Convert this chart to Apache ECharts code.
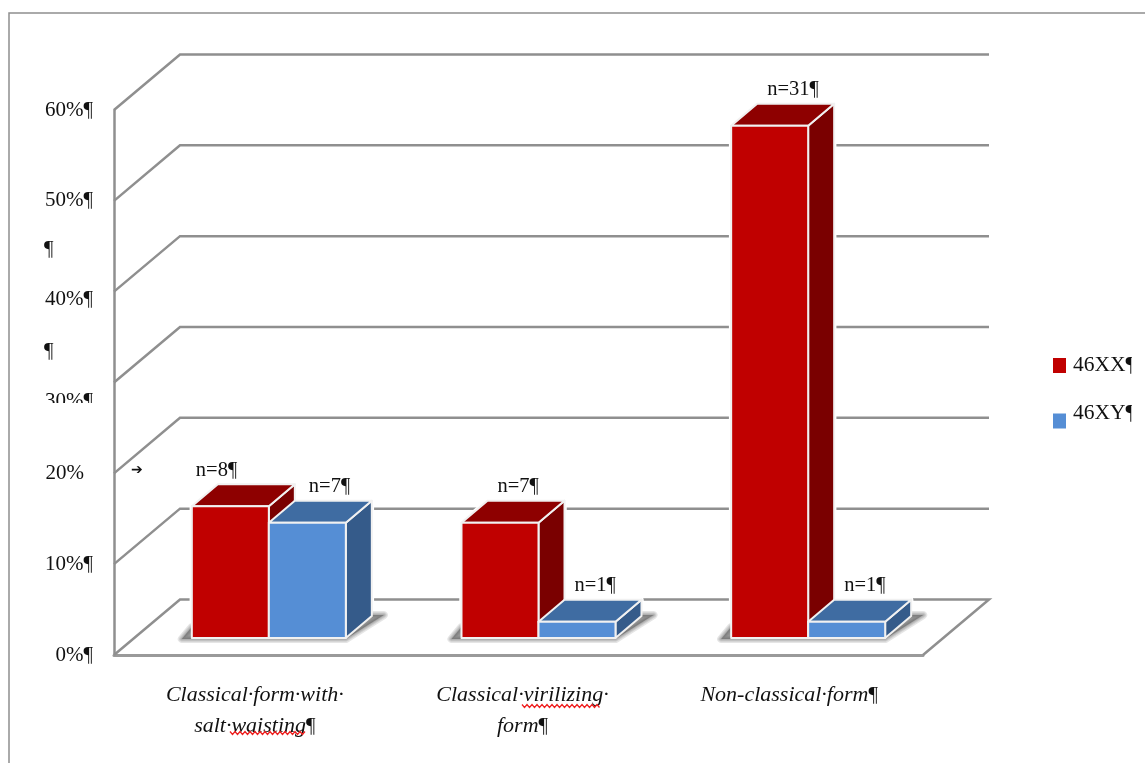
<!DOCTYPE html>
<html><head><meta charset="utf-8">
<style>html,body{margin:0;padding:0;background:#fff}#c{width:1145px;height:763px}</style>
<script src="https://cdn.jsdelivr.net/npm/echarts@6/dist/echarts.min.js"></script>
</head><body><div id="c"></div>
<script>
const categories = ['Classical·form·with·\nsalt·waisting', 'Classical·virilizing·\nform', 'Non-classical·form'];
const values46XX = [14.5, 12.7, 56.4];
const values46XY = [12.7, 1.8, 1.8];
const counts46XX = [8, 7, 31];
const counts46XY = [7, 1, 1];
const yTicks = [0, 10, 20, 30, 40, 50, 60];
const yTickLabels = ['0%¶', '10%¶', '20%', '30%¶', '40%¶', '50%¶', '60%¶'];

const SERIF = '"Liberation Serif", serif';
const GRID = {left: 114, top: 110, width: 809, height: 545};
const WALL = {dx: 66, dy: -55.5};
const INSET = {dx: 20, dy: -17};
const DEPTH = {dx: 26, dy: -22};
const BAR_SHARE = 77 / 269.67;

function barBox(api, slot) {
  const cat = api.value(0);
  const top = api.coord([cat, api.value(1)]);
  const base = api.coord([cat, 0]);
  const w = api.size([1, 0])[0] * BAR_SHARE;
  const x0 = top[0] + INSET.dx + (slot - 1) * w;
  return {cat, x0, x1: x0 + w, yT: top[1] + INSET.dy, yB: base[1] + INSET.dy};
}

function haloSeries(values, slot) {
  return {
    type: 'custom', coordinateSystem: 'cartesian2d', z: 2, silent: true,
    encode: {x: 0, y: 1},
    data: values.map((v, i) => [i, v]),
    renderItem(params, api) {
      const b = barBox(api, slot), d = DEPTH;
      return {type: 'polygon', shape: {points: [[b.x0, b.yB], [b.x0, b.yT], [b.x0 + d.dx, b.yT + d.dy],
        [b.x1 + d.dx, b.yT + d.dy], [b.x1 + d.dx, b.yB + d.dy], [b.x1, b.yB]]},
        style: {fill: '#fff', stroke: '#fff', lineWidth: 4.5, lineJoin: 'round'}};
    }
  };
}

function barSeries(name, values, counts, slot, pal) {
  return {
    name, type: 'custom', coordinateSystem: 'cartesian2d', z: 4,
    itemStyle: {color: pal.front},
    encode: {x: 0, y: 1},
    data: values.map((v, i) => [i, v, counts[i]]),
    renderItem(params, api) {
      const {cat, x0, x1, yT, yB} = barBox(api, slot);
      const d = DEPTH;
      const edge = {stroke: '#f1f1f1', lineWidth: 2, lineJoin: 'round'};
      const poly = (pts, fill) => ({type: 'polygon', shape: {points: pts}, style: Object.assign({fill}, edge)});
      const nudge = cat === 0 ? (slot === 0 ? -32 : 4) : 0;
      return {type: 'group', children: [
        poly([[x1, yT], [x1 + d.dx, yT + d.dy], [x1 + d.dx, yB + d.dy], [x1, yB]], pal.side),
        poly([[x0, yT], [x0 + d.dx, yT + d.dy], [x1 + d.dx, yT + d.dy], [x1, yT]], pal.top),
        poly([[x0, yT], [x1, yT], [x1, yB], [x0, yB]], pal.front),
        {type: 'text', z2: 5, style: {
          text: 'n=' + api.value(2) + '¶', x: x0 + 36 + nudge, y: yT - 36,
          fill: '#111', font: '20.5px ' + SERIF, textAlign: 'left', textVerticalAlign: 'middle'
        }}
      ]};
    }
  };
}

const wallSeries = {
  type: 'custom', coordinateSystem: 'cartesian2d', z: 1, silent: true,
  encode: {x: 0, y: 1},
  data: yTicks.map(t => [0, t]),
  renderItem(params, api) {
    const y = api.coord([0, api.value(1)])[1];
    const cs = params.coordSys;
    const L = cs.x, R = cs.x + cs.width;
    const pts = [[L, y], [L + WALL.dx, y + WALL.dy], [R + WALL.dx, y + WALL.dy]];
    if (api.value(1) === 0) pts.push([R, y]);
    return {type: 'polyline', shape: {points: pts}, style: {fill: null, stroke: '#8f8f8f', lineWidth: 2.5}};
  }
};

const shadowSeries = {
  type: 'custom', coordinateSystem: 'cartesian2d', z: 3, silent: true,
  encode: {x: 0, y: 1},
  data: categories.map((c, i) => [i, 0]),
  renderItem(params, api) {
    const p = api.coord([api.value(0), 0]);
    const w = api.size([1, 0])[0] * BAR_SHARE;
    const left = p[0] + INSET.dx - w, right = p[0] + INSET.dx + w;
    const y = p[1] + INSET.dy + 1;
    const pts = [[left - 10, y], [right, y], [right + 38, y - 24], [right, y - 24], [left, y - 12]];
    const layers = [];
    [8, 5.5, 3.5, 1.5].forEach(wd => layers.push({type: 'polygon', shape: {points: pts},
      style: {fill: 'rgba(95,95,95,0.2)', stroke: 'rgba(95,95,95,0.16)', lineWidth: wd, lineJoin: 'round'}}));
    return {type: 'group', children: layers};
  }
};

function squiggle(x0, x1, y) {
  const pts = [];
  for (let x = x0, i = 0; x <= x1; x += 2.5, i++) pts.push([x, y + (i % 2 ? 1.5 : -1.5)]);
  return {type: 'polyline', shape: {points: pts}, style: {fill: null, stroke: '#ee2020', lineWidth: 1.3}, z: 20};
}
const looseText = (text, x, y, size) => ({type: 'text', x, y, z: 20,
  style: {text, fill: '#111', font: size + 'px ' + SERIF, textVerticalAlign: 'middle'}});

const yStyle = {0: 'plain', 10: 'plain', 20: 'short', 30: 'low2', 40: 'low1', 50: 'plain', 60: 'plain'};
const catNudge = ['n12', 'n8', 'n2'];

const chart = echarts.init(document.getElementById('c'));
chart.setOption({
  animation: false,
  backgroundColor: '#fff',
  grid: GRID,
  legend: {
    left: 1048, top: 349, orient: 'vertical', itemWidth: 13, itemHeight: 15, itemGap: 26,
    icon: 'rect', selectedMode: false,
    data: ['46XX', '46XY'],
    formatter: n => n === '46XY' ? '{up|' + n + '¶}' : '{t|' + n + '¶}',
    textStyle: {color: '#111', fontFamily: SERIF, fontSize: 21.5,
      rich: {t: {fontFamily: SERIF, fontSize: 21.5, color: '#111', padding: [0, 0, 1, 2]},
             up: {fontFamily: SERIF, fontSize: 21.5, color: '#111', padding: [0, 0, 16, 2]}}}
  },
  xAxis: {
    type: 'category', data: categories,
    axisTick: {show: false},
    axisLine: {lineStyle: {color: '#9a9a9a', width: 3}},
    axisLabel: {
      interval: 0, margin: 25,
      formatter: (v, i) => {
        const lines = v.split('\n');
        return lines.map((l, k) => '{' + catNudge[i] + '|' + l + '}' + (k === lines.length - 1 ? '{p|¶}' : '')).join('\n');
      },
      rich: (() => {
        const base = {fontFamily: SERIF, fontStyle: 'italic', fontSize: 22, color: '#111', lineHeight: 31};
        return {
          n12: Object.assign({padding: [0, 0, 0, 12]}, base),
          n8: Object.assign({padding: [0, 0, 0, 8]}, base),
          n2: Object.assign({padding: [0, 0, 0, 2]}, base),
          p: {fontFamily: SERIF, fontSize: 21, color: '#111', lineHeight: 31}
        };
      })()
    }
  },
  yAxis: {
    type: 'value', min: 0, max: 60, interval: 10,
    splitLine: {show: false},
    axisTick: {show: false},
    axisLine: {show: true, lineStyle: {color: '#8f8f8f', width: 2.5}},
    axisLabel: {
      margin: 21, color: '#111', fontFamily: SERIF, fontSize: 21,
      formatter: v => '{' + yStyle[v] + '|' + yTickLabels[yTicks.indexOf(v)] + '}',
      rich: {
        plain: {fontFamily: SERIF, fontSize: 21, color: '#111'},
        short: {fontFamily: SERIF, fontSize: 21, color: '#111', padding: [0, 9, 0, 0]},
        low1: {fontFamily: SERIF, fontSize: 21, color: '#111', padding: [16, 0, 0, 0]},
        low2: {fontFamily: SERIF, fontSize: 21, color: '#111', padding: [38, 0, 0, 0]}
      }
    }
  },
  graphic: {elements: [
    {type: 'polyline', shape: {points: [[9, 763], [9, 13], [1145, 13]]}, style: {fill: null, stroke: '#8f8f8f', lineWidth: 1.5}, z: 20},
    looseText('¶', 44, 249, 21),
    looseText('¶', 44, 351, 21),
    looseText('➔', 131, 470, 14),
    {type: 'rect', shape: {x: 30, y: 403, width: 75, height: 14}, style: {fill: '#fff'}, z: 30},
    {type: 'rect', shape: {x: 1132, y: 340, width: 13, height: 120}, style: {fill: '#fff'}, z: 30},
    squiggle(230, 306, 733),
    squiggle(522, 601, 706)
  ]},
  series: [
    wallSeries,
    haloSeries(values46XX, 0),
    haloSeries(values46XY, 1),
    shadowSeries,
    barSeries('46XX', values46XX, counts46XX, 0, {front: '#C00000', top: '#8E0000', side: '#7A0000'}),
    barSeries('46XY', values46XY, counts46XY, 1, {front: '#558ED5', top: '#3F6CA2', side: '#355B8A'})
  ]
});
</script></body></html>
